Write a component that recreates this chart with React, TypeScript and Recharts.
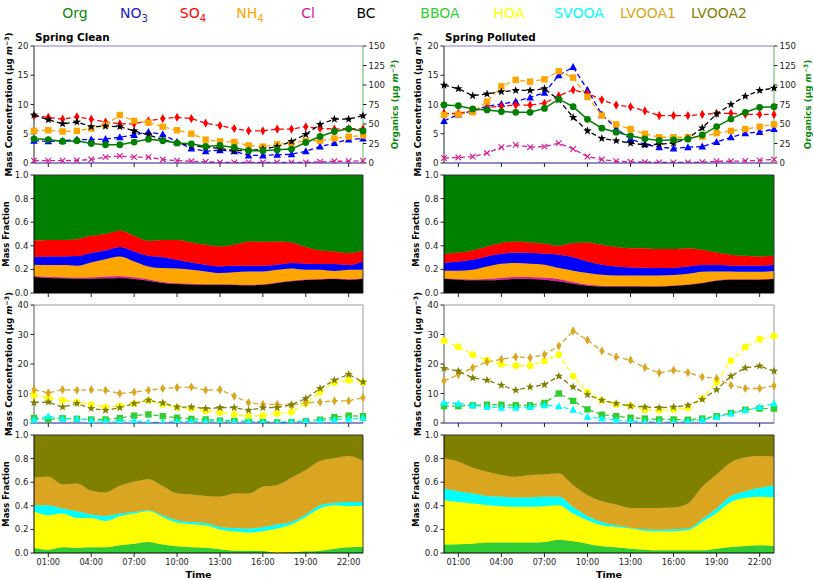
import React from 'react';
import { ComposedChart, LineChart, Line, AreaChart, Area, XAxis, YAxis, ReferenceLine } from 'recharts';

// ---------- categories ----------
const hours = [0, 1, 2, 3, 4, 5, 6, 7, 8, 9, 10, 11, 12, 13, 14, 15, 16, 17, 18, 19, 20, 21, 22, 23];
const hourTicks = [1, 4, 7, 10, 13, 16, 19, 22];
const hourLabels = ['01:00', '04:00', '07:00', '10:00', '13:00', '16:00', '19:00', '22:00'];

// ---------- Spring Clean : species concentrations ----------
const cleanOrg = [31, 30, 27.6, 28.5, 25, 23.4, 23.4, 26.8, 30.6, 28.5, 25.5, 24.6, 21.2, 22.5, 20, 15.7, 15.7, 17, 17.8, 26.3, 34, 40.4, 43.8, 41];
const cleanNO3 = [3.8, 3.7, 3.8, 4.0, 4.0, 4.1, 4.4, 4.8, 5.3, 4.9, 3.6, 2.5, 2.0, 2.2, 2.0, 1.3, 1.3, 1.4, 1.5, 2.0, 2.8, 3.4, 4.0, 4.2];
const cleanSO4 = [8.1, 7.8, 7.5, 7.9, 7.5, 7.0, 6.7, 6.7, 7.2, 7.6, 7.8, 7.6, 6.8, 6.4, 5.9, 5.5, 5.5, 5.8, 5.8, 6.2, 5.9, 5.8, 5.9, 5.8];
const cleanNH4 = [5.5, 5.6, 5.4, 5.5, 5.9, 6.5, 8.2, 7.2, 6.9, 6.2, 5.6, 5.0, 4.0, 3.7, 3.6, 3.0, 2.8, 3.2, 3.4, 3.8, 3.8, 4.2, 4.5, 4.7];
const cleanCl = [0.4, 0.4, 0.4, 0.45, 0.6, 1.0, 1.2, 1.0, 1.0, 0.6, 0.4, 0.3, 0.2, 0.1, 0.1, 0.1, 0.1, 0.1, 0.1, 0.1, 0.2, 0.3, 0.3, 0.4];
const cleanBC = [8.2, 7.4, 6.7, 7.0, 6.2, 6.3, 6.2, 5.5, 4.8, 4.0, 3.4, 3.0, 2.7, 2.5, 2.1, 2.1, 2.4, 2.8, 3.7, 4.9, 6.6, 7.5, 7.5, 8.1];

// ---------- Spring Polluted : species concentrations ----------
const pollOrg = [74.4, 73.5, 69.3, 68, 65.9, 65, 65, 70, 82, 72.2, 56, 44.6, 39.5, 34.8, 31, 28.9, 29.7, 30.6, 36, 46.7, 56.5, 65, 71.4, 72.2];
const pollNO3 = [7.2, 8.3, 8.9, 9.7, 10.1, 10.5, 11.2, 12.0, 15.0, 16.4, 12.5, 8.3, 5.9, 4.1, 3.2, 2.7, 2.5, 2.7, 2.8, 3.6, 4.4, 5.1, 5.3, 5.8];
const pollSO4 = [8.5, 8.5, 8.9, 9.5, 9.7, 9.9, 9.9, 10.2, 11.5, 12.5, 11.9, 10.8, 9.9, 9.6, 8.9, 8.1, 8.1, 8.1, 8.3, 8.5, 8.5, 8.3, 8.3, 8.3];
const pollNH4 = [8.2, 8.3, 8.7, 10.5, 13.1, 14.2, 13.9, 14.3, 15.7, 14.6, 11.3, 8.1, 6.6, 5.8, 5.0, 4.4, 4.4, 4.4, 4.5, 5.1, 5.5, 5.8, 6.2, 6.6];
const pollCl = [0.85, 0.95, 1.1, 1.7, 2.7, 3.1, 2.7, 2.8, 3.4, 2.4, 1.1, 0.6, 0.3, 0.2, 0.15, 0.1, 0.1, 0.1, 0.15, 0.3, 0.3, 0.35, 0.45, 0.6];
const pollBC = [13.3, 12.7, 11.5, 11.8, 12.2, 12.4, 12.4, 12.7, 10.8, 7.8, 5.5, 4.2, 3.8, 3.4, 3.1, 3.2, 3.4, 4.2, 6.0, 8.4, 10.0, 11.4, 12.4, 12.8];

// ---------- species mass fractions ----------
const cleanFracBC = [0.135, 0.127, 0.124, 0.121, 0.121, 0.124, 0.127, 0.118, 0.104, 0.085, 0.076, 0.073, 0.07, 0.07, 0.068, 0.065, 0.07, 0.085, 0.1, 0.11, 0.115, 0.118, 0.112, 0.12];
const cleanFracCl = [0.01, 0.01, 0.01, 0.01, 0.012, 0.015, 0.018, 0.015, 0.012, 0.008, 0.006, 0.005, 0.004, 0.004, 0.004, 0.004, 0.004, 0.004, 0.004, 0.004, 0.004, 0.004, 0.004, 0.005];
const cleanFracNH4 = [0.095, 0.1, 0.103, 0.1, 0.126, 0.148, 0.165, 0.135, 0.109, 0.118, 0.126, 0.119, 0.109, 0.095, 0.103, 0.114, 0.109, 0.108, 0.104, 0.083, 0.078, 0.064, 0.081, 0.072];
const cleanFracNO3 = [0.064, 0.073, 0.073, 0.082, 0.079, 0.073, 0.079, 0.084, 0.09, 0.093, 0.074, 0.062, 0.057, 0.056, 0.056, 0.048, 0.048, 0.043, 0.046, 0.051, 0.048, 0.059, 0.04, 0.071];
const cleanFracSO4 = [0.141, 0.14, 0.14, 0.143, 0.147, 0.141, 0.138, 0.133, 0.127, 0.146, 0.168, 0.169, 0.168, 0.169, 0.177, 0.206, 0.203, 0.197, 0.174, 0.141, 0.115, 0.107, 0.101, 0.092];
const cleanFracOrg = [0.555, 0.55, 0.55, 0.544, 0.515, 0.499, 0.473, 0.515, 0.558, 0.55, 0.55, 0.572, 0.592, 0.606, 0.592, 0.563, 0.566, 0.563, 0.572, 0.611, 0.64, 0.648, 0.662, 0.64];

const pollFracBC = [0.12, 0.113, 0.107, 0.107, 0.113, 0.118, 0.118, 0.113, 0.099, 0.079, 0.062, 0.056, 0.056, 0.056, 0.056, 0.056, 0.062, 0.07, 0.085, 0.104, 0.113, 0.113, 0.113, 0.118];
const pollFracCl = [0.006, 0.006, 0.008, 0.012, 0.016, 0.02, 0.018, 0.018, 0.02, 0.015, 0.01, 0.005, 0.003, 0.003, 0.002, 0.002, 0.002, 0.002, 0.002, 0.003, 0.003, 0.003, 0.004, 0.005];
const pollFracNH4 = [0.063, 0.07, 0.082, 0.106, 0.119, 0.116, 0.112, 0.109, 0.092, 0.095, 0.097, 0.094, 0.09, 0.09, 0.091, 0.091, 0.088, 0.091, 0.093, 0.076, 0.067, 0.064, 0.063, 0.063];
const pollFracNO3 = [0.065, 0.079, 0.085, 0.085, 0.084, 0.087, 0.09, 0.092, 0.113, 0.115, 0.099, 0.085, 0.076, 0.068, 0.065, 0.062, 0.062, 0.062, 0.057, 0.054, 0.048, 0.051, 0.051, 0.054];
const pollFracSO4 = [0.076, 0.076, 0.079, 0.084, 0.091, 0.096, 0.09, 0.085, 0.076, 0.119, 0.16, 0.168, 0.164, 0.163, 0.166, 0.161, 0.158, 0.155, 0.129, 0.107, 0.093, 0.084, 0.079, 0.075];
const pollFracOrg = [0.67, 0.656, 0.639, 0.606, 0.577, 0.563, 0.572, 0.583, 0.6, 0.577, 0.572, 0.592, 0.611, 0.62, 0.62, 0.628, 0.628, 0.62, 0.634, 0.656, 0.676, 0.685, 0.69, 0.685];

// ---------- PMF factor concentrations ----------
const cleanBBOA = [1.7, 1.2, 1.6, 1.4, 1.2, 1.2, 1.7, 2.5, 2.9, 2.3, 1.8, 1.4, 1.2, 0.8, 0.7, 0.6, 0.3, 0.2, 0.3, 0.6, 1.1, 2.0, 2.5, 2.3];
const cleanHOA = [9.4, 8.6, 7.7, 7.1, 6.2, 5.4, 5.8, 6.6, 7.7, 6.3, 5.2, 4.9, 4.1, 3.6, 2.9, 2.3, 2.5, 3.2, 3.7, 6.6, 10.5, 13.7, 14.5, 13.8];
const cleanSVOOA = [1.1, 2.3, 1.4, 1.4, 0.9, 0.7, 0.7, 0.7, 0.2, 0.2, 0.5, 0.6, 0.6, 0.5, 0.5, 0.5, 0.3, 0.2, 0.3, 0.7, 0.9, 1.1, 1.4, 1.7];
const cleanLVOOA1 = [11.3, 10.2, 11.3, 11.1, 11.3, 11.1, 10.0, 10.5, 11.1, 11.7, 12.0, 12.2, 11.1, 11.3, 9.1, 6.9, 6.3, 6.3, 6.0, 6.8, 7.1, 7.5, 7.5, 8.6];
const cleanLVOOA2 = [6.9, 7.1, 5.4, 6.6, 4.9, 4.3, 5.2, 6.6, 7.7, 6.8, 5.4, 5.4, 4.9, 5.2, 5.2, 4.3, 5.2, 5.2, 6.2, 8.3, 11.7, 14.5, 16.5, 13.9];

const pollBBOA = [5.7, 5.7, 6.0, 6.2, 6.2, 6.0, 6.0, 6.8, 10.0, 7.5, 4.6, 2.8, 2.3, 1.8, 1.5, 1.2, 1.2, 1.1, 1.5, 2.3, 3.4, 4.5, 4.9, 4.9];
const pollHOA = [27.9, 25.8, 23.2, 21.3, 19.9, 19.4, 19.4, 21.0, 23.2, 15.9, 10.5, 7.7, 6.3, 5.8, 4.5, 4.3, 4.5, 5.1, 8.3, 13.9, 21.1, 25.8, 28.4, 29.5];
const pollSVOOA = [6.9, 6.6, 6.0, 5.4, 5.2, 5.2, 5.4, 6.0, 5.7, 4.5, 2.0, 1.5, 0.9, 0.6, 0.5, 0.3, 0.3, 0.6, 1.1, 2.0, 3.2, 4.3, 5.4, 6.6];
const pollLVOOA1 = [14.3, 16.4, 18.7, 20.7, 21.6, 22.4, 22.1, 23.2, 26.1, 31.2, 28.1, 24.4, 22.4, 21.3, 18.8, 17.0, 17.9, 17.1, 15.6, 15.1, 12.8, 11.7, 11.7, 12.6];
const pollLVOOA2 = [18.5, 17.6, 15.3, 14.5, 12.8, 11.1, 12.2, 13.0, 15.9, 12.2, 9.6, 7.7, 6.6, 5.8, 5.4, 5.2, 5.4, 6.0, 8.0, 11.3, 15.9, 18.7, 19.3, 17.6];

// ---------- PMF factor mass fractions ----------
const cleanFracBBOA = [0.042, 0.028, 0.048, 0.042, 0.048, 0.048, 0.065, 0.079, 0.093, 0.071, 0.057, 0.048, 0.045, 0.031, 0.02, 0.02, 0.017, 0.003, 0.006, 0.014, 0.02, 0.037, 0.048, 0.051];
const cleanFracHOA = [0.312, 0.292, 0.286, 0.255, 0.249, 0.224, 0.247, 0.255, 0.261, 0.235, 0.201, 0.196, 0.19, 0.167, 0.164, 0.153, 0.167, 0.204, 0.235, 0.292, 0.357, 0.368, 0.349, 0.349];
const cleanFracSVOOA = [0.051, 0.085, 0.043, 0.057, 0.029, 0.042, 0.022, 0.014, 0.009, 0.014, 0.02, 0.019, 0.02, 0.023, 0.028, 0.034, 0.037, 0.034, 0.022, 0.02, 0.028, 0.02, 0.036, 0.033];
const cleanFracLVOOA1 = [0.232, 0.241, 0.204, 0.235, 0.201, 0.199, 0.235, 0.255, 0.263, 0.247, 0.226, 0.233, 0.227, 0.255, 0.292, 0.297, 0.34, 0.334, 0.374, 0.377, 0.374, 0.377, 0.389, 0.346];
const cleanFracLVOOA2 = [0.363, 0.354, 0.419, 0.411, 0.473, 0.487, 0.431, 0.397, 0.374, 0.433, 0.496, 0.504, 0.518, 0.524, 0.496, 0.496, 0.439, 0.425, 0.363, 0.297, 0.221, 0.198, 0.178, 0.221];

const pollFracBBOA = [0.071, 0.074, 0.079, 0.088, 0.088, 0.088, 0.088, 0.093, 0.113, 0.099, 0.079, 0.057, 0.048, 0.037, 0.028, 0.023, 0.023, 0.023, 0.023, 0.037, 0.051, 0.059, 0.065, 0.059];
const pollFracHOA = [0.377, 0.359, 0.34, 0.317, 0.309, 0.303, 0.303, 0.304, 0.292, 0.235, 0.199, 0.178, 0.173, 0.17, 0.159, 0.161, 0.161, 0.17, 0.24, 0.303, 0.382, 0.408, 0.411, 0.411];
const pollFracSVOOA = [0.099, 0.091, 0.085, 0.079, 0.079, 0.079, 0.079, 0.079, 0.071, 0.057, 0.036, 0.028, 0.014, 0.008, 0.014, 0.014, 0.017, 0.014, 0.023, 0.037, 0.049, 0.057, 0.076, 0.105];
const pollFracLVOOA1 = [0.255, 0.249, 0.218, 0.204, 0.184, 0.176, 0.19, 0.19, 0.198, 0.184, 0.176, 0.176, 0.176, 0.167, 0.181, 0.184, 0.184, 0.212, 0.275, 0.289, 0.286, 0.286, 0.27, 0.241];
const pollFracLVOOA2 = [0.198, 0.227, 0.278, 0.312, 0.34, 0.354, 0.34, 0.334, 0.326, 0.425, 0.51, 0.561, 0.589, 0.618, 0.618, 0.618, 0.615, 0.581, 0.439, 0.334, 0.232, 0.19, 0.178, 0.184];

// ---------- styles ----------
const FONT = '"DejaVu Sans", sans-serif';
const COLORS: Record<string, string> = {
  Org: '#008000', NO3: '#0000ff', SO4: '#ff0000', NH4: '#ffa500', Cl: '#d4209a', BC: '#000000',
  BBOA: '#32cd32', HOA: '#ffff00', SVOOA: '#00ffff', LVOOA1: '#daa520', LVOOA2: '#808000',
};
const yTickStyle = { fill: '#222', fontSize: 8.6, fontFamily: FONT };
const xTickStyle = { fill: '#222', fontSize: 8.2, fontFamily: FONT };

const COLS = [
  { left: 0, width: 403, yw: 34, rw: 40 },
  { left: 405, width: 408, yw: 39, rw: 39 },
];
const ROWS = [
  { top: 46, bottom: 163 },
  { top: 175, bottom: 293 },
  { top: 305, bottom: 423 },
  { top: 435, bottom: 553 },
];
const PAD = 6;

function buildRows(cols: Record<string, number[]>) {
  return hours.map((h, i) => {
    const r: Record<string, number> = { hour: h };
    Object.keys(cols).forEach((k) => { r[k] = cols[k][i]; });
    return r;
  });
}

const cleanIons = buildRows({ Org: cleanOrg, NO3: cleanNO3, SO4: cleanSO4, NH4: cleanNH4, Cl: cleanCl, BC: cleanBC });
const pollIons = buildRows({ Org: pollOrg, NO3: pollNO3, SO4: pollSO4, NH4: pollNH4, Cl: pollCl, BC: pollBC });
const cleanIonFrac = buildRows({ BC: cleanFracBC, Cl: cleanFracCl, NH4: cleanFracNH4, NO3: cleanFracNO3, SO4: cleanFracSO4, Org: cleanFracOrg });
const pollIonFrac = buildRows({ BC: pollFracBC, Cl: pollFracCl, NH4: pollFracNH4, NO3: pollFracNO3, SO4: pollFracSO4, Org: pollFracOrg });
const cleanPmf = buildRows({ BBOA: cleanBBOA, HOA: cleanHOA, SVOOA: cleanSVOOA, LVOOA1: cleanLVOOA1, LVOOA2: cleanLVOOA2 });
const pollPmf = buildRows({ BBOA: pollBBOA, HOA: pollHOA, SVOOA: pollSVOOA, LVOOA1: pollLVOOA1, LVOOA2: pollLVOOA2 });
const cleanPmfFrac = buildRows({ BBOA: cleanFracBBOA, HOA: cleanFracHOA, SVOOA: cleanFracSVOOA, LVOOA1: cleanFracLVOOA1, LVOOA2: cleanFracLVOOA2 });
const pollPmfFrac = buildRows({ BBOA: pollFracBBOA, HOA: pollFracHOA, SVOOA: pollFracSVOOA, LVOOA1: pollFracLVOOA1, LVOOA2: pollFracLVOOA2 });

// ---------- markers ----------
function starPath(cx: number, cy: number, ro: number, ri: number) {
  let d = '';
  for (let k = 0; k < 10; k++) {
    const r = k % 2 === 0 ? ro : ri;
    const a = -Math.PI / 2 + (k * Math.PI) / 5;
    d += (k === 0 ? 'M' : 'L') + (cx + r * Math.cos(a)).toFixed(2) + ',' + (cy + r * Math.sin(a)).toFixed(2);
  }
  return d + 'Z';
}

const marker = (shape: string, color: string) => (p: any) => {
  const { cx, cy, index } = p;
  const key = 'm' + index;
  if (cx == null || cy == null || isNaN(cx) || isNaN(cy)) return <g key={key} />;
  switch (shape) {
    case 'circle':
      return <circle key={key} cx={cx} cy={cy} r={3.4} fill={color} />;
    case 'square':
      return <rect key={key} x={cx - 3.2} y={cy - 3.2} width={6.4} height={6.4} fill={color} />;
    case 'triangle':
      return <polygon key={key} points={`${cx},${cy - 4} ${cx - 3.8},${cy + 3} ${cx + 3.8},${cy + 3}`} fill={color} />;
    case 'diamond':
      return <polygon key={key} points={`${cx},${cy - 4.6} ${cx + 2.6},${cy} ${cx},${cy + 4.6} ${cx - 2.6},${cy}`} fill={color} />;
    case 'x':
      return (
        <g key={key} stroke={color} strokeWidth={1.2}>
          <line x1={cx - 2.8} y1={cy - 2.8} x2={cx + 2.8} y2={cy + 2.8} />
          <line x1={cx - 2.8} y1={cy + 2.8} x2={cx + 2.8} y2={cy - 2.8} />
        </g>
      );
    case 'star':
      return <path key={key} d={starPath(cx, cy, 4.4, 1.8)} fill={color} />;
    default:
      return <g key={key} />;
  }
};

const ionMarkers: Record<string, string> = { NO3: 'triangle', SO4: 'diamond', NH4: 'square', Cl: 'x', BC: 'star', Org: 'circle' };
const pmfMarkers: Record<string, string> = { BBOA: 'square', HOA: 'circle', SVOOA: 'triangle', LVOOA1: 'diamond', LVOOA2: 'star' };

function fmtHour(v: number) {
  const i = hourTicks.indexOf(v);
  return i >= 0 ? hourLabels[i] : '';
}

function xAxisFor(row: number, bottomColor: string) {
  const last = row === 3;
  return (
    <XAxis
      dataKey="hour"
      type="number"
      domain={[0, 23]}
      ticks={hourTicks}
      tickFormatter={last ? fmtHour : () => ''}
      height={last ? 18 : PAD}
      tickSize={4}
      tick={xTickStyle}
      axisLine={{ stroke: bottomColor }}
      tickLine={{ stroke: '#222' }}
      interval={0}
    />
  );
}

function Box({ col, row, children }: { col: number; row: number; children: any }) {
  const c = COLS[col];
  const r = ROWS[row];
  return <div style={{ position: 'absolute', left: c.left, top: r.top - PAD }}>{children}</div>;
}

function chartSize(col: number, row: number) {
  const r = ROWS[row];
  return { width: COLS[col].width, height: r.bottom - r.top + PAD + (row === 3 ? 18 : PAD) };
}

function IonPanel({ col, data }: { col: number; data: any[] }) {
  const c = COLS[col];
  const s = chartSize(col, 0);
  const left = ['NO3', 'SO4', 'NH4', 'Cl', 'BC'];
  return (
    <Box col={col} row={0}>
      <ComposedChart width={s.width} height={s.height} data={data} margin={{ top: PAD, right: 0, bottom: 0, left: 0 }}>
        {xAxisFor(0, '#1a1a8c')}
        <YAxis yAxisId="l" domain={[0, 20]} ticks={[0, 5, 10, 15, 20]} width={c.yw} tickSize={3.5} tick={yTickStyle}
          axisLine={{ stroke: '#222' }} tickLine={{ stroke: '#222' }} allowDataOverflow />
        <YAxis yAxisId="r" orientation="right" domain={[0, 150]} ticks={[0, 25, 50, 75, 100, 125, 150]} width={c.rw}
          tickSize={3.5} tick={yTickStyle} axisLine={{ stroke: '#5cb85c' }} tickLine={{ stroke: '#222' }} allowDataOverflow />
        <ReferenceLine yAxisId="l" y={20} stroke="#8a7ac8" strokeWidth={1} />
        {left.map((k) => (
          <Line key={k} yAxisId="l" dataKey={k} type="linear" stroke={COLORS[k]} strokeWidth={1.3} strokeDasharray="5 3"
            dot={marker(ionMarkers[k], COLORS[k])} activeDot={false} isAnimationActive={false} />
        ))}
        <Line yAxisId="r" dataKey="Org" type="linear" stroke={COLORS.Org} strokeWidth={1.5}
          dot={marker('circle', COLORS.Org)} activeDot={false} isAnimationActive={false} />
      </ComposedChart>
    </Box>
  );
}

function FracPanel({ col, row, data, keys }: { col: number; row: number; data: any[]; keys: string[] }) {
  const c = COLS[col];
  const s = chartSize(col, row);
  return (
    <Box col={col} row={row}>
      <AreaChart width={s.width} height={s.height} data={data} margin={{ top: PAD, right: c.rw, bottom: 0, left: 0 }}>
        {xAxisFor(row, '#000')}
        <YAxis domain={[0, 1]} ticks={[0, 0.2, 0.4, 0.6, 0.8, 1]} tickFormatter={(v: number) => v.toFixed(1)} width={c.yw}
          tickSize={3.5} tick={yTickStyle} axisLine={{ stroke: '#000' }} tickLine={{ stroke: '#222' }} allowDataOverflow />
        {keys.map((k) => (
          <Area key={k} dataKey={k} stackId="s" type="monotone" fill={COLORS[k]} fillOpacity={1} stroke={COLORS[k]}
            strokeWidth={0.6} dot={false} activeDot={false} isAnimationActive={false} />
        ))}
        <ReferenceLine y={1} stroke="#333" strokeWidth={1} />
        <ReferenceLine x={23} stroke="#333" strokeWidth={1} />
      </AreaChart>
    </Box>
  );
}

function PmfPanel({ col, data }: { col: number; data: any[] }) {
  const c = COLS[col];
  const s = chartSize(col, 2);
  const keys = ['BBOA', 'HOA', 'SVOOA', 'LVOOA1', 'LVOOA2'];
  return (
    <Box col={col} row={2}>
      <LineChart width={s.width} height={s.height} data={data} margin={{ top: PAD, right: c.rw, bottom: 0, left: 0 }}>
        {xAxisFor(2, '#1a1a8c')}
        <YAxis domain={[0, 40]} ticks={[0, 10, 20, 30, 40]} width={c.yw} tickSize={3.5} tick={yTickStyle}
          axisLine={{ stroke: '#555' }} tickLine={{ stroke: '#222' }} allowDataOverflow />
        <ReferenceLine y={40} stroke="#9a9a9a" strokeWidth={1} />
        <ReferenceLine x={23} stroke="#9a9a9a" strokeWidth={1} />
        {keys.map((k) => (
          <Line key={k} dataKey={k} type="linear" stroke={COLORS[k]} strokeWidth={1.3} strokeDasharray="5 3"
            dot={marker(pmfMarkers[k], COLORS[k])} activeDot={false} isAnimationActive={false} />
        ))}
      </LineChart>
    </Box>
  );
}

function ConcLabel({ x, y, color = '#000', prefix }: { x: number; y: number; color?: string; prefix: string }) {
  return (
    <text x={x} y={y} transform={`rotate(-90 ${x} ${y})`} textAnchor="middle" dominantBaseline="central"
      fontFamily={FONT} fontWeight="bold" fontSize={8.8} fill={color}>
      <tspan>{prefix} (μg </tspan>
      <tspan fontStyle="italic">m</tspan>
      <tspan dy={-3} fontSize={6.2}>−3</tspan>
      <tspan dy={3}>)</tspan>
    </text>
  );
}

function FracLabel({ x, y }: { x: number; y: number }) {
  return (
    <text x={x} y={y} transform={`rotate(-90 ${x} ${y})`} textAnchor="middle" dominantBaseline="central"
      fontFamily={FONT} fontWeight="bold" fontSize={8.4} fill="#000">Mass Fraction</text>
  );
}

const legendItems = [
  { key: 'Org', label: 'Org', sub: '', x: 75 },
  { key: 'NO3', label: 'NO', sub: '3', x: 134 },
  { key: 'SO4', label: 'SO', sub: '4', x: 193 },
  { key: 'NH4', label: 'NH', sub: '4', x: 250 },
  { key: 'Cl', label: 'Cl', sub: '', x: 308 },
  { key: 'BC', label: 'BC', sub: '', x: 366 },
  { key: 'BBOA', label: 'BBOA', sub: '', x: 440 },
  { key: 'HOA', label: 'HOA', sub: '', x: 509 },
  { key: 'SVOOA', label: 'SVOOA', sub: '', x: 579 },
  { key: 'LVOOA1', label: 'LVOOA1', sub: '', x: 648 },
  { key: 'LVOOA2', label: 'LVOOA2', sub: '', x: 719 },
];
const legendColors: Record<string, string> = { ...COLORS, NO3: '#1c1cc4', Org: '#0a8a0a' };

export default function App() {
  const rowMid = ROWS.map((r) => (r.top + r.bottom) / 2);
  return (
    <div style={{ position: 'absolute', left: 0, top: 0, width: 813, height: 580, background: '#fff', overflow: 'hidden' }}>
      <IonPanel col={0} data={cleanIons} />
      <IonPanel col={1} data={pollIons} />
      <FracPanel col={0} row={1} data={cleanIonFrac} keys={['BC', 'Cl', 'NH4', 'NO3', 'SO4', 'Org']} />
      <FracPanel col={1} row={1} data={pollIonFrac} keys={['BC', 'Cl', 'NH4', 'NO3', 'SO4', 'Org']} />
      <PmfPanel col={0} data={cleanPmf} />
      <PmfPanel col={1} data={pollPmf} />
      <FracPanel col={0} row={3} data={cleanPmfFrac} keys={['BBOA', 'HOA', 'SVOOA', 'LVOOA1', 'LVOOA2']} />
      <FracPanel col={1} row={3} data={pollPmfFrac} keys={['BBOA', 'HOA', 'SVOOA', 'LVOOA1', 'LVOOA2']} />
      <svg width={813} height={580} style={{ position: 'absolute', left: 0, top: 0, pointerEvents: 'none' }}>
        {legendItems.map((it) => (
          <text key={it.key} x={it.x} y={18} textAnchor="middle" fontFamily={FONT} fontSize={14} fill={legendColors[it.key]}>
            {it.label}
            {it.sub ? <tspan dy={4} fontSize={10}>{it.sub}</tspan> : null}
          </text>
        ))}
        <text x={35} y={41} fontFamily={FONT} fontWeight="bold" fontSize={10.4} fill="#000">Spring Clean</text>
        <text x={445} y={41} fontFamily={FONT} fontWeight="bold" fontSize={10.4} fill="#000">Spring Polluted</text>
        <ConcLabel x={9} y={rowMid[0]} prefix="Mass Concentration" />
        <FracLabel x={6} y={rowMid[1]} />
        <ConcLabel x={9} y={rowMid[2]} prefix="Mass Concentration" />
        <FracLabel x={6} y={rowMid[3]} />
        <ConcLabel x={418} y={rowMid[0]} prefix="Mass Concentration" />
        <FracLabel x={416} y={rowMid[1]} />
        <ConcLabel x={418} y={rowMid[2]} prefix="Mass Concentration" />
        <FracLabel x={416} y={rowMid[3]} />
        <ConcLabel x={395} y={rowMid[0]} prefix="Organics" color="#0a8a0a" />
        <ConcLabel x={808} y={rowMid[0]} prefix="Organics" color="#0a8a0a" />
        <text x={198.5} y={578} textAnchor="middle" fontFamily={FONT} fontWeight="bold" fontSize={9.5} fill="#000">Time</text>
        <text x={609} y={578} textAnchor="middle" fontFamily={FONT} fontWeight="bold" fontSize={9.5} fill="#000">Time</text>
      </svg>
    </div>
  );
}
